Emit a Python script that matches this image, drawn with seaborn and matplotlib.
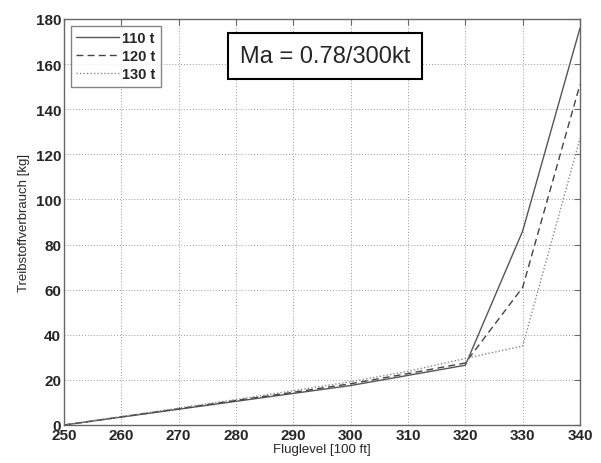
import matplotlib
matplotlib.use("Agg")
import matplotlib.pyplot as plt
import seaborn as sns
import pandas as pd

flightlevel = [250, 260, 270, 280, 290, 300, 310, 320, 330, 340]
fuel_110 = [0, 3.5, 7.0, 10.5, 14.0, 17.5, 22.0, 26.5, 86, 176]
fuel_120 = [0, 3.6, 7.2, 10.9, 14.5, 18.3, 22.8, 27.5, 61, 151]
fuel_130 = [0, 3.8, 7.5, 11.3, 15.2, 19.2, 23.8, 29.5, 35, 127]
series_names = ["110 t", "120 t", "130 t"]

sns.set_style("white")
plt.rcParams['font.family'] = ['Liberation Sans', 'DejaVu Sans']

df = pd.DataFrame({
    "fl": flightlevel * 3,
    "fuel": fuel_110 + fuel_120 + fuel_130,
    "mass": [series_names[0]] * len(flightlevel) + [series_names[1]] * len(flightlevel) + [series_names[2]] * len(flightlevel),
})

fig = plt.figure(figsize=(6.01, 4.64), dpi=100)
ax = fig.add_axes([64/601, 38/464, 516/601, 406/464])

styles = {series_names[0]: "-", series_names[1]: (0, (5, 3)), series_names[2]: (0, (1, 1.5))}
colors = {series_names[0]: "#555555", series_names[1]: "#444444", series_names[2]: "#888888"}
for name in series_names:
    sub = df[df["mass"] == name]
    sns.lineplot(data=sub, x="fl", y="fuel", ax=ax, color=colors[name],
                 linestyle=styles[name], linewidth=1.0, label=name)

ax.set_xlim(250, 340)
ax.set_ylim(0, 180)
ax.set_xticks(range(250, 341, 10))
ax.set_yticks(range(0, 181, 20))
ax.grid(True, linestyle=(0, (1, 2)), color="#999999", linewidth=0.7)
for s in ax.spines.values():
    s.set_color("#666666")
    s.set_linewidth(1.0)
ax.tick_params(direction="in", length=4, color="#666666", labelsize=11, pad=2,
               top=True, right=True)
for lbl in ax.get_xticklabels() + ax.get_yticklabels():
    lbl.set_fontweight("bold")
ax.set_xlabel("Fluglevel [100 ft]", fontsize=9.5, labelpad=1)
ax.set_ylabel("Treibstoffverbrauch [kg]", fontsize=9.5, labelpad=4)

leg = ax.legend(loc="upper left", fontsize=10.5, frameon=True, fancybox=False,
                handlelength=3.0, handletextpad=0.2, borderpad=0.35,
                labelspacing=0.3, borderaxespad=0.45)
leg.get_frame().set_edgecolor("#666666")
leg.get_frame().set_linewidth(1.0)
for t in leg.get_texts():
    t.set_fontweight("bold")

ax.text(0.506, 0.909, "Ma = 0.78/300kt", transform=ax.transAxes, fontsize=17,
        ha="center", va="center",
        bbox=dict(boxstyle="square,pad=0.5", facecolor="white", edgecolor="black", linewidth=1.5))

fig.savefig("out.png", dpi=100)
